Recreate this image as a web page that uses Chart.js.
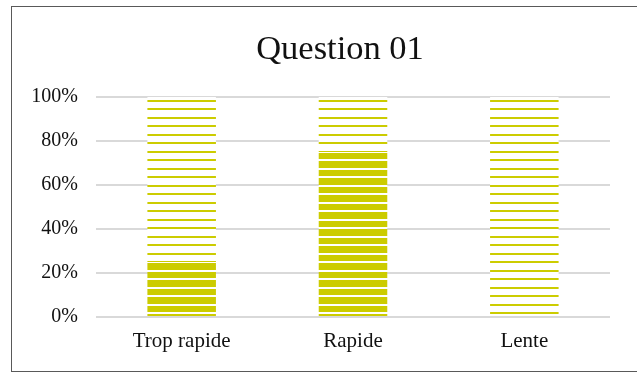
<!DOCTYPE html>
<html>
<head>
<meta charset="utf-8">
<script src="https://cdn.jsdelivr.net/npm/chart.js@4/dist/chart.umd.min.js"></script>
<style>
  html, body { margin: 0; padding: 0; background: #fff; overflow: hidden; }
  body { width: 637px; height: 372px; position: relative; }
  #frame {
    position: absolute; left: 11px; top: 6px;
    width: 656px; height: 364px;
    border: 1px solid #595959;
    background: #fff;
  }
  #chart { display: block; }
</style>
</head>
<body>
<div id="frame"><canvas id="chart" width="656" height="364"></canvas></div>
<script>
// Answers to question 01, shares in percent per category
const categories = ['Trop rapide', 'Rapide', 'Lente'];
const denseShare = [25, 75, 0];
const lightShare = [75, 25, 100];
const yTickLabels = ['0%', '20%', '40%', '60%', '80%', '100%'];

const OLIVE = 'rgb(204,204,0)';

// Horizontal stripe fills: 17px tile, two stripes per tile
function stripeFill(dense) {
  const tile = document.createElement('canvas');
  tile.width = 8; tile.height = 17;
  const c = tile.getContext('2d');
  const lineRows = [0, 8, 9, 16];
  for (let r = 0; r < 17; r++) {
    const onLine = lineRows.includes(r);
    const yellow = dense ? !onLine : onLine;
    c.fillStyle = yellow ? OLIVE : '#ffffff';
    c.fillRect(0, r, 8, 1);
  }
  return document.getElementById('chart').getContext('2d').createPattern(tile, 'repeat');
}

const serif = '"Liberation Serif", "Times New Roman", serif';

new Chart(document.getElementById('chart'), {
  type: 'bar',
  data: {
    labels: categories,
    datasets: [
      { label: 'dense', data: denseShare, backgroundColor: stripeFill(true), borderWidth: 0 },
      { label: 'light', data: lightShare, backgroundColor: stripeFill(false), borderWidth: 0 }
    ]
  },
  options: {
    responsive: false,
    animation: false,
    devicePixelRatio: 1,
    layout: { padding: 0 },
    datasets: { bar: { barPercentage: 0.4, categoryPercentage: 1 } },
    plugins: {
      legend: { display: false },
      tooltip: { enabled: false },
      title: {
        display: true,
        fullSize: true,
        text: 'Question 01',
        color: '#111',
        font: { family: serif, size: 34.5, weight: 'normal' },
        padding: { top: 22, bottom: 26.6 }
      }
    },
    scales: {
      x: {
        stacked: true,
        grid: { display: false, drawTicks: false },
        border: { display: false },
        ticks: { color: '#111', font: { family: serif, size: 21 }, padding: 12, maxRotation: 0 },
        afterFit: (s) => { s.height = 54; }
      },
      y: {
        stacked: true,
        min: 0, max: 100,
        grid: { color: '#d9d9d9', lineWidth: 2, drawTicks: false },
        border: { display: false },
        ticks: {
          stepSize: 20,
          color: '#111',
          font: { family: serif, size: 20 },
          padding: 18,
          callback: (v) => yTickLabels[Math.round(v / 20)]
        },
        afterFit: (s) => { s.width = 84; }
      },
      // empty right-hand margin of the plot
      margin: {
        position: 'right',
        min: 0, max: 100,
        grid: { display: false, drawTicks: false },
        border: { display: false },
        ticks: { display: false },
        afterFit: (s) => { s.width = 58; }
      }
    }
  }
});
</script>
</body>
</html>
